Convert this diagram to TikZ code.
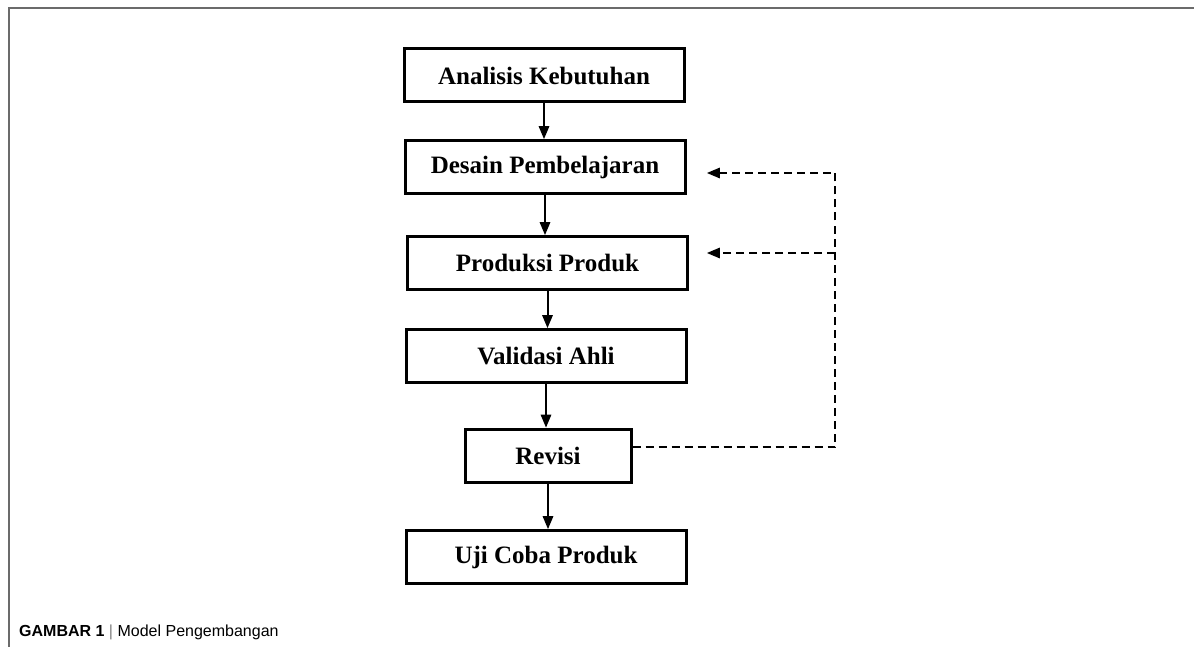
\documentclass[tikz,border=0pt]{standalone}
\usepackage{fontspec}
\setmainfont{Liberation Serif}
\newfontfamily\capfont{Liberation Sans}
\usetikzlibrary{arrows}
\definecolor{bingkai}{HTML}{6B6B6B}

\begin{document}
\begin{tikzpicture}[line join=miter,>=triangle 45,x=1pt,y=-1pt]
\tikzset{kotak/.style={draw,line width=3pt,minimum height=53pt,inner sep=0pt,
  font=\fontsize{25}{29}\selectfont\bfseries}}
\tikzset{panah/.style={->,line width=2pt}}
\tikzset{putus/.style={->,line width=2pt,dash pattern=on 8pt off 5pt}}
\useasboundingbox (0,0) rectangle (1194,647);
\draw[line width=2pt,color=bingkai] (1194,8)--(9,8)--(9,647);
% alur utama
\node[kotak,minimum width=280pt] (analisis) at (544,75.5) {Analisis Kebutuhan};
\node[kotak,minimum width=280pt] (desain) at (545,167) {Desain Pembelajaran};
\node[kotak,minimum width=280pt] (produksi) at (547.5,263) {Produksi Produk};
\node[kotak,minimum width=280pt] (validasi) at (546,356) {Validasi Ahli};
\node[kotak,minimum width=166pt] (revisi) at (548,455.5) {Revisi};
\node[kotak,minimum width=280pt] (uji) at (546,557) {Uji Coba Produk};
\draw[panah] (analisis.south) -- (analisis.south |- desain.north);
\draw[panah] (desain.south) -- (desain.south |- produksi.north);
\draw[panah] (produksi.south) -- (produksi.south |- validasi.north);
\draw[panah] (validasi.south) -- (validasi.south |- revisi.north);
\draw[panah] (revisi.south) -- (revisi.south |- uji.north);
% umpan balik revisi
\coordinate (sudut) at (835,447);
\coordinate (atas) at (835,173);
\coordinate (tengah) at (835,253);
\coordinate (ujungA) at (707,173);
\coordinate (ujungB) at (707,253);
\draw[putus] ([yshift=8.5pt]revisi.east) -- (sudut) -- (atas) -- (ujungA);
\draw[putus] (tengah) -- (ujungB);
% keterangan
\node[anchor=base west,inner sep=0pt] (judul) at (19,636)
  {\capfont\fontsize{16}{19}\selectfont\textbf{GAMBAR 1} {\color{gray}|} Model Pengembangan};
\end{tikzpicture}
\end{document}
